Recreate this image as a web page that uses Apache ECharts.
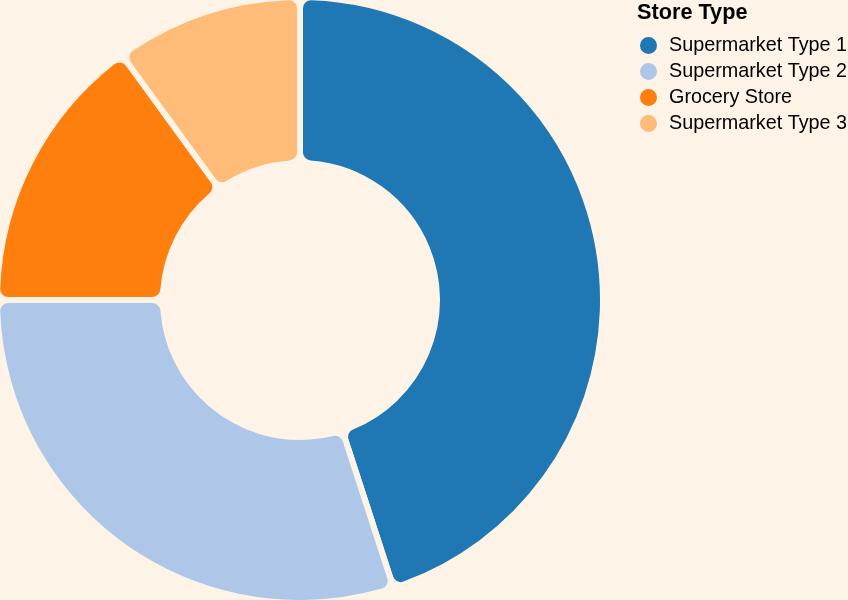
<!DOCTYPE html>
<html>
<head>
<meta charset="utf-8">
<style>
html,body{margin:0;padding:0;background:#fdf4e7;}
#chart{width:848px;height:600px;}
</style>
<script src="https://cdn.jsdelivr.net/npm/echarts@6/dist/echarts.min.js"></script>
</head>
<body>
<div id="chart"></div>
<script>
var categories = ['Supermarket Type 1', 'Supermarket Type 2', 'Grocery Store', 'Supermarket Type 3'];
var values = [45, 30, 15, 10];
var colors = ['#1f77b4', '#aec7e8', '#ff7f0e', '#ffbb78'];
var legendTitle = 'Store Type';
var bg = '#fdf4e7';

var chart = echarts.init(document.getElementById('chart'), null, {renderer: 'canvas'});
chart.setOption({
  backgroundColor: bg,
  animation: false,
  title: {
    text: legendTitle,
    left: 632,
    top: -3,
    textStyle: {fontFamily: 'Liberation Sans, Arial, sans-serif', fontSize: 21.7, fontWeight: 'bold', color: '#000'}
  },
  legend: {
    orient: 'vertical',
    left: 638,
    top: 35,
    icon: 'circle',
    itemWidth: 19,
    itemHeight: 19,
    itemGap: 5,
    padding: 0,
    textStyle: {fontFamily: 'Liberation Sans, Arial, sans-serif', fontSize: 19.8, color: '#000', padding: [0, 0, 0, 6]},
    data: categories
  },
  series: [{
    type: 'pie',
    center: [300, 300],
    radius: [137, 303],
    startAngle: 90,
    clockwise: true,
    label: {show: false},
    labelLine: {show: false},
    emphasis: {disabled: true},
    itemStyle: {borderColor: bg, borderWidth: 6, borderRadius: 11},
    data: categories.map(function (c, i) {
      return {name: c, value: values[i], itemStyle: {color: colors[i]}};
    })
  }]
});
</script>
</body>
</html>
